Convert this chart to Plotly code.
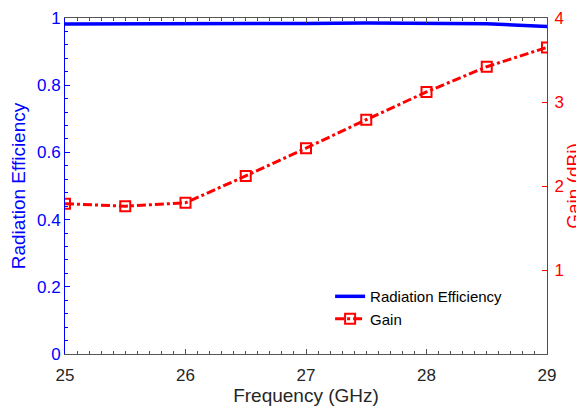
import plotly.graph_objects as go

freq = [25, 25.5, 26, 26.5, 27, 27.5, 28, 28.5, 29]
efficiency = [0.982, 0.982, 0.982, 0.983, 0.984, 0.985, 0.985, 0.983, 0.975]
gain = [1.79, 1.76, 1.80, 2.12, 2.45, 2.79, 3.12, 3.42, 3.65]

FONT = "Liberation Sans, Arial, sans-serif"
BLUE = "#0000ff"
RED = "#ff0000"
GRAY = "#262626"

fig = go.Figure()
fig.add_trace(go.Scatter(x=freq, y=efficiency, mode="lines", name="Radiation Efficiency",
                         line=dict(color=BLUE, width=3.5), yaxis="y"))
fig.add_trace(go.Scatter(x=freq, y=gain, mode="lines+markers", name="Gain",
                         line=dict(color=RED, width=3, dash="dashdot"),
                         marker=dict(symbol="square-open", size=10, color=RED, line=dict(width=2)),
                         yaxis="y2"))

fig.update_layout(
    width=576, height=402,
    margin=dict(l=57, r=37, t=10, b=56, autoexpand=False),
    paper_bgcolor="white", plot_bgcolor="white",
    font=dict(family=FONT, size=15, color=GRAY),
    showlegend=True,
    legend=dict(x=0.55, y=0.22, xanchor="left", yanchor="top", bgcolor="rgba(0,0,0,0)",
                font=dict(size=15, color="black"), tracegroupgap=0),
    xaxis=dict(range=[25, 29], tickvals=[25, 26, 27, 28, 29], showgrid=False, zeroline=False,
               showline=True, linecolor="#555555", linewidth=1, mirror="ticks",
               ticks="inside", ticklen=5, tickcolor="#555555", automargin=False,
               ticklabelstandoff=6,
               minor=dict(dtick=0.1, ticks="inside", ticklen=3, tickcolor="#555555"),
               tickfont=dict(size=17, color=GRAY),
               title=dict(text="Frequency (GHz)", font=dict(size=19, color=GRAY), standoff=4)),
    yaxis=dict(range=[0, 1], tickvals=[0, 0.2, 0.4, 0.6, 0.8, 1], showgrid=False, zeroline=False,
               showline=True, linecolor=BLUE, linewidth=1, automargin=False,
               ticks="inside", ticklen=5, tickcolor=BLUE,
               minor=dict(dtick=0.04, ticks="inside", ticklen=3, tickcolor=BLUE),
               tickfont=dict(size=17, color=BLUE),
               title=dict(text="Radiation Efficiency", font=dict(size=19, color=BLUE), standoff=8)),
    yaxis2=dict(range=[0, 4], tickvals=[1, 2, 3, 4], overlaying="y", side="right",
                showgrid=False, zeroline=False, showline=True, linecolor=RED, linewidth=1,
                ticks="inside", ticklen=5, tickcolor=RED, automargin=False,
                ticklabelstandoff=3,
                tickfont=dict(size=17, color=RED),
                title=dict(text="Gain (dBi)", font=dict(size=19, color=RED), standoff=2)),
)

fig.write_html("out.html")
